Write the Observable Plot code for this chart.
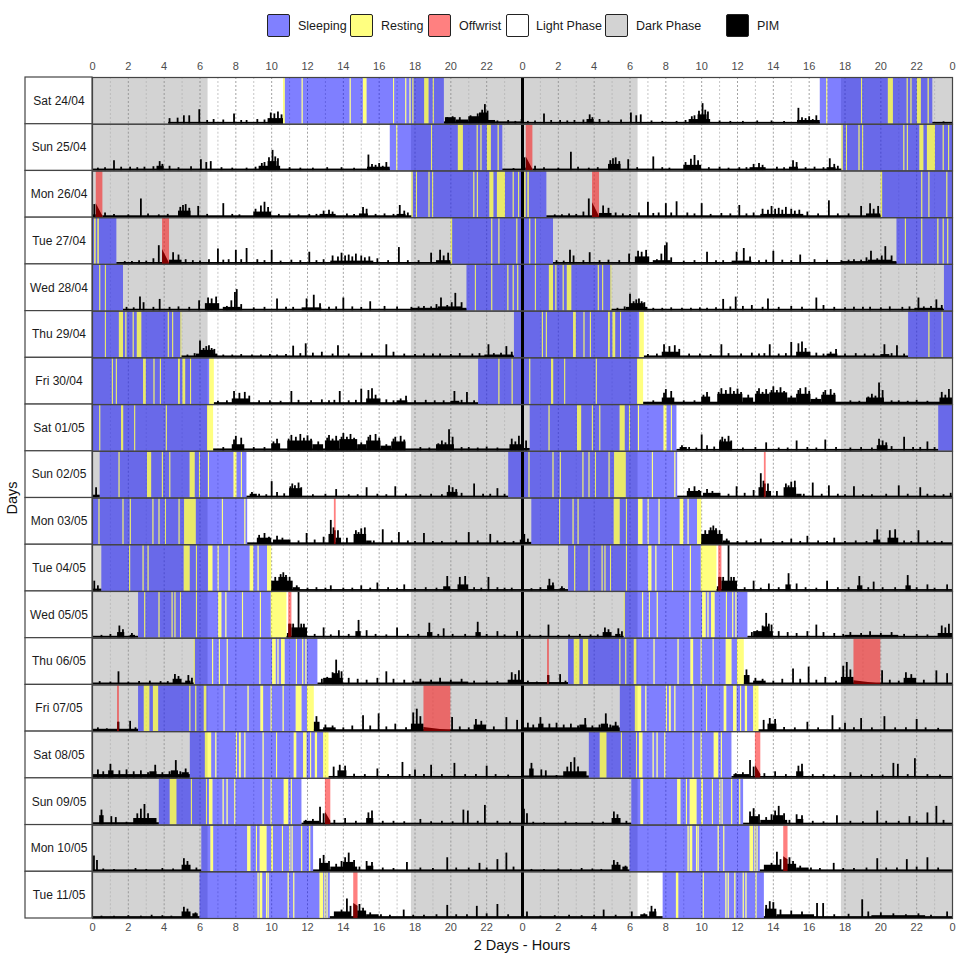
<!DOCTYPE html>
<html>
<head>
<meta charset="utf-8">
<script src="https://cdn.jsdelivr.net/npm/d3@7"></script>
<script src="https://cdn.jsdelivr.net/npm/@observablehq/plot@0.6"></script>
<style>
  body { margin: 0; background: white; font-family: "Liberation Sans", Arial, sans-serif; }
  #wrap { width: 960px; }
  #chart svg { display: block; }
  .lg-box { position: absolute; top: 14px; width: 21px; height: 21px; border: 1.5px solid #222; border-radius: 2px; }
  .lg-txt { position: absolute; top: 18px; line-height: 16px; font-size: 12.5px; color: #1a1a1a; }
</style>
</head>
<body>
<div id="wrap">
  <div id="legend" style="position:relative;width:960px;height:50px;"></div>
  <div id="chart"></div>
  <div style="position:relative;width:960px;height:25px;">
    <div style="position:absolute;left:92px;width:860px;top:0;text-align:center;line-height:20px;font-size:14.5px;color:#111;">2 Days - Hours</div>
  </div>
</div>
<script>
// ---------------- data ----------------
const dayLabels = ["Sat 24/04","Sun 25/04","Mon 26/04","Tue 27/04","Wed 28/04","Thu 29/04","Fri 30/04","Sat 01/05","Sun 02/05","Mon 03/05","Tue 04/05","Wed 05/05","Thu 06/05","Fri 07/05","Sat 08/05","Sun 09/05","Mon 10/05","Tue 11/05","Wed 12/05"];

const darkPhase = [[0, 6.45], [17.8, 24]];

const xTicks = [0,2,4,6,8,10,12,14,16,18,20,22,24,26,28,30,32,34,36,38,40,42,44,46,48];

const sleepBouts = [
  [[10.76,19.64]],
  [[16.62,22.9]],
  [[17.88,24]],
  [[0,1.36],[20.1,24]],
  [[0,1.73],[20.9,24]],
  [[0,4.99],[23.55,24]],
  [[0,6.54],[21.55,24]],
  [[0,6.42]],
  [[0.43,8.62],[23.23,24]],
  [[0,8.66]],
  [[0.52,9.77]],
  [[2.57,9.98]],
  [[5.68,12.58]],
  [[2.57,12.38]],
  [[5.46,12.9]],
  [[3.73,11.69]],
  [[6.1,12.34]],
  [[6.0,13.27]],
  [[7.85,13.5]]
];

const restBouts = [
  [[10.66,10.76],[11.7,11.76],[14.38,14.44],[15.12,15.32],[16.8,16.86],[17.48,17.54],[17.72,17.78],[17.88,17.94],[18.54,18.78],[19.02,19.08]],
  [[16.98,17.04],[18.92,18.98],[20.42,20.7],[21.47,21.53],[21.68,21.74],[22.04,22.26],[22.64,22.7]],
  [[17.83,17.9],[18.08,18.14],[18.78,18.84],[18.98,19.04],[21.28,21.34],[21.48,21.54],[22.18,22.4],[22.6,23.05],[23.48,23.54],[23.78,23.84]],
  [[0.12,0.2],[0.3,0.38],[20.02,20.1],[22.28,22.34],[22.68,22.74],[23.68,23.74]],
  [[0.4,0.46],[0.72,0.78],[21.37,21.43],[22.28,22.34],[23.18,23.24],[23.48,23.54],[23.73,23.79]],
  [[0.72,0.78],[1.5,1.73],[1.86,1.92],[2.27,2.33],[2.5,2.75],[4.23,4.29],[4.47,4.53],[4.93,4.99]],
  [[1.11,1.17],[1.33,1.39],[2.85,3.0],[3.43,3.49],[3.79,3.85],[4.8,4.9],[5.05,5.2],[5.47,5.53],[6.54,6.8],[22.68,22.74],[23.42,23.48]],
  [[0.4,0.46],[1.62,1.74],[2.35,2.41],[4.12,4.18],[6.42,6.76]],
  [[1.48,1.54],[3.07,3.3],[3.9,3.96],[4.31,4.37],[5.45,5.73],[5.97,6.03],[6.47,6.53],[7.9,8.06],[8.31,8.37]],
  [[0.36,0.42],[1.7,1.76],[2.11,2.17],[3.37,3.43],[3.71,3.77],[4.07,4.13],[4.83,4.89],[5.14,5.79],[7.25,7.31],[8.5,8.56]],
  [[2.07,2.13],[2.82,2.88],[3.1,3.16],[5.12,5.45],[5.8,5.86],[6.48,6.72],[7.01,7.07],[7.62,7.68],[8.8,9.0],[9.24,9.3],[9.77,10.0]],
  [[2.91,2.97],[3.71,3.77],[4.44,4.5],[4.6,4.66],[4.91,4.97],[5.8,5.86],[7.04,7.22],[7.44,7.5],[8.37,8.43],[9.37,9.43],[9.98,10.85]],
  [[5.68,5.74],[6.7,6.76],[7.08,7.14],[7.52,7.58],[9.34,9.4],[10.05,10.25],[10.35,10.41],[10.55,10.75],[11.38,11.44],[11.73,11.79],[11.91,11.97]],
  [[2.89,3.2],[3.4,3.69],[5.43,5.49],[5.76,5.82],[6.24,6.38],[7.34,7.4],[8.68,8.74],[9.4,9.55],[9.97,10.03],[10.64,10.7],[11.37,11.69],[12.0,12.38]],
  [[6.3,6.65],[6.88,6.94],[8.03,8.09],[8.2,8.3],[8.5,8.56],[9.52,9.58],[10.27,10.33],[11.26,11.4],[11.78,11.97],[12.17,12.23],[12.44,12.56],[12.9,13.2]],
  [[4.34,4.71],[5.52,5.58],[6.36,6.42],[6.53,6.72],[7.29,7.35],[7.51,7.57],[7.94,8.0],[9.52,9.58],[9.97,10.03],[10.7,10.95],[11.1,11.16]],
  [[6.61,6.76],[8.66,8.84],[9.15,9.21],[9.36,9.74],[10.0,10.1],[10.6,10.66],[11.01,11.07],[11.14,11.2],[11.67,11.73],[12.12,12.18]],
  [[9.24,9.3],[9.36,9.5],[9.71,9.77],[9.8,9.86],[10.92,10.98],[11.23,11.29],[12.7,12.9],[12.97,13.03],[13.09,13.15]],
  [[8.59,8.72],[10.09,10.15],[11.35,11.41],[11.48,11.54],[11.85,11.91],[12.32,12.38],[12.47,12.53],[13.03,13.09]]
];

const offwristBouts = [
  [], [], [[0.21,0.58]], [[3.91,4.3]], [], [], [], [], [], [[13.5,13.6]], [], [[10.95,11.13]], [],
  [[1.4,1.5],[18.5,20.0]], [], [[13.0,13.3]], [], [[14.58,14.82]], []
];
// PIM at start / end of each offwrist bout
const offwristPim = [
  [], [], [[30,3]], [[32,2]], [], [], [], [], [], [[30,30]], [], [[30,30]], [],
  [[20,20],[9,2]], [], [[28,8]], [], [[32,26]], []
];

// PIM background levels: [start, end, level]
const pimLevels = [
  [[4.25,10.66,4],[9.8,10.66,12],[19.64,24,5],[19.7,20.3,14],[20.3,21.0,9],[21.0,21.6,16],[21.6,22.1,24],[22.1,22.5,8]],
  [[0,16.62,4],[3.6,4.0,10],[9.3,10.5,10],[9.8,10.3,20],[15.35,16.62,8],[22.9,24,4]],
  [[0,0.21,6],[0.58,17.83,4],[4.8,5.5,14],[9.0,10.0,12],[12.7,13.6,7],[14.9,15.4,8],[17.0,17.5,7]],
  [[1.36,3.91,4],[4.3,20.02,4],[4.3,5.0,9],[13.3,15.7,7],[19.2,20.0,8]],
  [[1.73,20.9,4],[6.3,7.1,16],[7.3,8.3,8],[11.7,12.8,7],[17.8,20.9,6],[19.3,20.6,9]],
  [[4.99,23.55,4],[5.8,7.0,8],[6.0,6.8,16],[21.9,23.5,6]],
  [[6.8,21.55,4],[7.8,8.8,12],[15.3,16.1,12],[17.0,17.6,8],[20.0,20.5,7]],
  [[6.76,24,5],[7.8,8.5,14],[10.0,10.5,16],[10.9,12.3,22],[12.3,12.9,14],[13.0,13.8,22],[13.8,14.8,25],[14.8,15.3,14],[15.3,16.1,22],[16.1,16.7,11],[16.7,17.5,20],[19.2,20.2,14],[23.3,24,14]],
  [[0,0.43,6],[8.62,23.23,4],[8.8,9.2,8],[11.0,11.7,20],[19.8,20.4,12]],
  [[8.66,24,4],[9.2,10.0,14],[10.1,11.0,10],[13.2,13.5,22],[13.6,13.9,14],[14.6,15.3,22],[15.3,15.6,8]],
  [[0,0.52,5],[10.0,24,4],[10.0,11.2,22],[10.4,10.9,30],[11.2,11.6,8],[19.6,20.0,10],[20.4,21.0,14]],
  [[0,2.57,4],[1.4,1.8,12],[2.1,2.4,6],[10.85,24,4],[11.13,12.0,22],[14.7,15.0,14],[18.7,19.0,12],[21.4,21.7,12]],
  [[0,5.68,4],[4.5,5.0,12],[5.2,5.5,8],[12.58,24,4],[12.9,14.0,14],[13.4,13.8,24],[18.0,21.0,6],[23.2,24,10]],
  [[0,1.4,5],[1.5,2.57,5],[12.38,24,4],[12.38,12.7,20],[12.9,13.6,8],[17.8,18.5,16],[21.3,22.0,14]],
  [[0,5.46,8],[0.9,1.2,16],[3.2,3.6,14],[4.4,4.8,16],[5.0,5.4,12],[13.2,24,4],[13.7,14.2,16]],
  [[0,3.73,5],[0.4,0.65,20],[2.3,3.6,14],[11.69,24,4],[11.8,12.7,8],[15.3,15.7,14]],
  [[0,6.1,4],[5.0,5.5,14],[12.34,24,4],[12.7,13.2,18],[13.3,14.8,10],[14.0,14.6,20],[15.3,15.7,12]],
  [[0,6.0,4],[5.0,5.5,14],[5.6,5.9,10],[13.27,24,4],[13.5,14.4,14],[14.8,15.3,16],[15.3,16.0,8]],
  [[0,7.85,4],[6.6,7.0,8],[7.1,7.5,14],[13.5,24,4],[13.56,14.2,20],[14.2,16.3,8],[19.5,22.5,6]]
];

// PIM peaks: [hour, value]
const pimSpikes = [
  [[4.3,12],[4.75,13],[5.1,18],[5.4,18],[5.96,31],[6.4,8],[6.76,10],[7.3,9],[7.9,22],[8.3,8],[8.6,8],[9.2,10],[9.6,9],[9.95,24],[10.15,22],[10.35,26],[10.55,20],[19.8,14],[20.1,16],[20.5,14],[21.1,18],[21.5,22],[21.75,30],[21.9,42],[22.05,28],[22.6,7],[23.2,8],[23.6,6],[23.95,10]],
  [[0.3,6],[0.7,7],[1.2,22],[1.6,8],[2.1,8],[2.5,7],[2.9,8],[3.4,9],[3.75,20],[3.9,14],[4.3,10],[4.8,7],[5.5,9],[6.05,24],[6.35,18],[6.6,20],[7.2,7],[7.8,6],[8.6,6],[9.1,8],[9.45,16],[9.6,18],[9.85,28],[10.05,44],[10.2,30],[10.35,26],[11.0,7],[11.6,6],[12.3,6],[13.1,7],[13.9,7],[14.6,6],[15.4,34],[15.6,14],[15.8,12],[16.0,16],[16.2,10],[16.4,18],[23.5,5]],
  [[0.1,28],[0.7,10],[1.2,7],[2.0,6],[2.7,40],[3.1,8],[3.7,6],[4.2,7],[4.9,22],[5.05,26],[5.2,28],[5.4,20],[5.9,24],[6.4,7],[7.3,30],[7.8,7],[8.2,6],[9.1,18],[9.4,25],[9.6,33],[9.8,22],[10.4,7],[11.0,8],[11.5,6],[12.1,7],[12.5,7],[12.9,14],[13.2,16],[13.4,12],[14.2,8],[14.6,7],[15.1,22],[15.3,18],[15.8,7],[16.3,8],[16.8,7],[17.15,26],[17.4,14],[17.6,10]],
  [[1.8,6],[2.2,6],[2.6,8],[3.0,7],[3.4,12],[3.7,40],[4.5,25],[4.8,20],[5.2,10],[5.6,8],[6.0,7],[6.5,10],[7.0,33],[7.3,9],[7.6,10],[8.0,30],[8.3,10],[8.6,34],[9.2,10],[9.6,8],[10.0,30],[10.5,7],[11.1,9],[11.6,8],[12.1,26],[12.5,8],[12.9,10],[13.4,18],[13.7,16],[13.9,24],[14.1,18],[14.3,20],[14.5,16],[14.7,22],[15.0,18],[15.2,14],[15.45,16],[15.9,12],[16.5,8],[17.1,36],[17.6,8],[18.2,8],[18.9,24],[19.4,30],[19.6,18],[19.85,24]],
  [[1.9,8],[2.3,7],[2.65,30],[2.85,18],[3.4,8],[3.75,25],[4.3,8],[4.8,9],[5.4,8],[5.95,22],[6.45,28],[6.65,26],[6.9,30],[7.5,10],[7.75,22],[7.95,40],[8.05,46],[8.3,14],[9.0,7],[9.6,8],[10.3,26],[10.8,8],[11.2,8],[11.95,26],[12.35,34],[12.7,16],[13.2,8],[13.6,9],[14.0,28],[14.5,9],[15.0,8],[15.5,20],[16.3,10],[17.0,9],[17.8,8],[18.2,9],[18.5,10],[18.9,9],[19.2,14],[19.45,28],[19.8,12],[20.05,18],[20.25,38],[20.6,18]],
  [[5.3,6],[5.7,9],[6.0,36],[6.2,20],[6.35,24],[6.5,26],[6.65,20],[6.8,18],[7.3,6],[7.8,6],[8.3,7],[8.9,6],[9.4,6],[9.9,7],[10.3,6],[10.8,7],[11.2,25],[11.6,9],[11.9,30],[12.3,10],[12.8,12],[13.4,8],[13.7,26],[14.3,8],[15.0,10],[15.6,8],[16.4,28],[16.8,12],[17.4,8],[18.0,7],[18.5,8],[19.0,8],[19.4,8],[20.0,7],[20.5,9],[21.2,8],[21.6,9],[22.1,28],[22.4,9],[22.8,10],[23.1,24],[23.4,12]],
  [[7.0,7],[7.5,8],[7.9,28],[8.2,24],[8.5,26],[8.75,18],[9.3,8],[9.9,8],[10.5,7],[11.1,28],[11.5,9],[12.2,8],[12.8,10],[13.2,8],[13.5,9],[13.8,28],[14.3,8],[14.7,9],[15.0,33],[15.4,30],[15.6,34],[15.8,20],[16.4,10],[16.8,8],[17.2,12],[17.5,18],[18.0,8],[18.6,9],[19.1,8],[19.6,8],[20.2,28],[20.6,9],[20.9,26],[21.3,8]],
  [[7.3,8],[7.9,24],[8.0,32],[8.3,28],[9.0,8],[9.6,8],[10.1,20],[10.3,26],[10.95,26],[11.1,34],[11.35,30],[11.6,36],[11.8,28],[12.0,33],[12.2,26],[12.6,20],[13.1,28],[13.2,34],[13.4,26],[13.6,32],[13.9,30],[14.0,38],[14.2,30],[14.4,36],[14.6,28],[15.0,18],[15.4,30],[15.5,34],[15.8,36],[16.0,28],[16.4,14],[16.8,26],[16.9,30],[17.2,32],[17.4,24],[18.3,8],[18.8,7],[19.3,16],[19.5,22],[19.7,18],[19.9,46],[20.1,30],[20.6,8],[21.0,8],[21.5,7],[22.0,9],[22.6,7],[23.4,26],[23.6,20],[23.8,32]],
  [[0.2,22],[8.9,12],[9.3,8],[9.7,7],[10.0,35],[10.3,12],[10.7,9],[11.05,24],[11.15,30],[11.3,26],[11.5,32],[11.65,22],[12.3,7],[13.0,8],[13.6,18],[14.3,7],[14.8,7],[15.3,22],[15.9,8],[16.4,7],[16.9,24],[17.5,8],[18.3,7],[18.9,8],[19.5,7],[19.9,26],[20.1,22],[20.3,18],[20.6,10],[21.3,30],[21.8,8],[22.2,8],[22.6,20],[23.0,8]],
  [[9.3,20],[9.6,24],[9.85,16],[10.3,18],[10.6,14],[11.0,10],[11.5,8],[11.95,24],[12.4,10],[12.9,16],[13.3,52],[13.45,36],[13.7,30],[14.2,14],[14.7,30],[14.85,26],[15.0,34],[15.2,36],[15.7,8],[16.2,32],[16.7,8],[17.1,26],[17.6,8],[18.0,7],[18.5,24],[19.0,7],[19.5,7],[20.3,8],[21.0,26],[21.5,8],[22.2,22],[22.6,8],[23.0,7],[23.5,7],[23.9,10]],
  [[0.1,22],[0.3,12],[10.2,30],[10.5,36],[10.65,40],[10.8,34],[11.0,30],[11.4,12],[12.0,7],[12.5,8],[13.0,7],[13.3,12],[14.0,7],[14.5,7],[15.0,12],[15.5,7],[15.9,18],[16.5,8],[17.0,7],[17.4,14],[18.0,7],[18.6,8],[19.2,7],[19.8,32],[20.5,30],[20.8,32],[21.3,8],[21.7,7],[22.1,30],[22.6,8],[23.0,7],[23.4,7]],
  [[0.5,6],[1.0,8],[1.5,26],[1.7,18],[2.2,10],[10.9,10],[11.2,30],[11.5,100],[11.65,30],[11.8,30],[12.4,8],[12.9,22],[13.3,7],[13.75,16],[14.3,8],[14.85,38],[15.3,16],[15.8,8],[16.4,7],[17.0,22],[17.6,8],[18.2,8],[18.8,32],[19.3,8],[19.6,20],[20.1,8],[20.8,8],[21.5,34],[22.0,8],[22.6,14],[23.0,7],[23.7,14]],
  [[0.4,7],[1.0,6],[1.45,28],[2.0,6],[2.6,7],[3.2,8],[3.8,7],[4.2,7],[4.6,22],[4.8,18],[5.35,20],[5.55,14],[12.8,12],[13.1,16],[13.4,26],[13.6,53],[13.75,30],[13.9,28],[14.3,14],[14.8,12],[15.3,10],[15.9,14],[16.4,28],[16.8,12],[17.4,10],[17.9,8],[18.3,12],[18.9,10],[19.4,14],[20.0,10],[20.6,12],[21.3,8],[22.0,8],[22.6,7],[23.4,26],[23.6,22],[23.8,30]],
  [[0.3,8],[0.8,6],[1.45,20],[2.1,22],[2.4,8],[12.5,32],[13.0,14],[13.4,12],[14.0,8],[14.5,12],[15.1,34],[15.5,12],[15.97,38],[16.4,10],[16.9,16],[17.5,8],[17.9,40],[18.1,48],[18.3,32],[20.07,30],[20.5,10],[21.0,8],[21.4,26],[21.7,22],[22.4,10],[23.1,30],[23.7,24]],
  [[0.3,18],[0.6,14],[1.0,30],[1.5,16],[1.9,18],[2.3,14],[2.7,16],[3.1,12],[3.5,28],[3.9,12],[4.3,14],[4.65,38],[4.9,14],[5.2,20],[13.46,24],[13.8,28],[14.1,26],[14.6,9],[15.2,8],[15.9,20],[16.5,8],[17.3,34],[17.7,8],[18.0,18],[18.5,8],[18.9,28],[19.5,8],[20.2,32],[20.8,8],[21.4,8],[22.0,26],[22.5,8],[23.2,7]],
  [[0.5,32],[1.05,18],[1.3,16],[1.9,6],[2.5,24],[2.7,34],[2.9,44],[3.1,24],[3.4,12],[11.9,10],[12.3,12],[12.7,38],[12.9,24],[13.5,10],[14.1,14],[14.7,8],[15.4,26],[15.6,30],[16.2,8],[16.8,8],[17.4,7],[18.3,12],[18.9,7],[19.5,8],[20.1,7],[20.7,32],[20.95,30],[21.5,8],[21.9,42],[22.6,8],[23.3,7]],
  [[0.08,34],[0.25,24],[0.6,6],[1.2,5],[2.4,7],[3.0,5],[3.9,7],[4.5,6],[5.1,28],[5.3,22],[5.8,8],[12.7,28],[12.9,35],[13.2,22],[13.6,16],[13.9,22],[14.1,30],[14.3,40],[14.6,24],[14.9,10],[15.3,22],[15.6,20],[16.2,8],[16.8,7],[17.55,20],[18.3,8],[19.0,7],[19.8,30],[20.3,8],[21.0,8],[21.6,18],[22.0,8],[22.6,26],[23.1,40],[23.5,10]],
  [[0.5,5],[1.2,5],[2.0,6],[2.7,5],[3.3,7],[3.9,6],[4.4,5],[5.1,24],[5.3,20],[5.75,12],[13.6,12],[13.9,18],[14.2,42],[14.4,26],[14.9,30],[15.1,22],[15.5,12],[16.1,8],[16.6,7],[17.37,18],[17.9,7],[18.5,7],[19.2,8],[19.8,28],[20.3,8],[20.9,8],[21.45,26],[22.0,10],[22.6,30],[23.2,8]],
  [[0.25,14],[1.0,5],[1.8,6],[2.6,7],[3.3,6],[4.0,7],[4.53,18],[5.2,7],[6.1,14],[6.8,10],[7.2,26],[7.4,20],[13.6,28],[13.8,36],[14.0,34],[14.4,18],[15.0,16],[15.6,14],[16.44,32],[16.78,32],[17.4,8],[18.2,9],[18.96,40],[19.3,14],[20.0,12],[20.7,10],[21.4,8],[22.1,10],[22.8,7],[23.7,14]]
];

const legendItems = [
  {label: "Sleeping", color: "#8080ff", box: 267, text: 298},
  {label: "Resting", color: "#ffff80", box: 350, text: 381},
  {label: "Offwrist", color: "#ff8080", box: 428, text: 459},
  {label: "Light Phase", color: "#ffffff", box: 506, text: 536},
  {label: "Dark Phase", color: "#d3d3d3", box: 605, text: 636},
  {label: "PIM", color: "#000000", box: 726, text: 757}
];

// ---------------- build ----------------
const rows = dayLabels.slice(0, 18);

function subtract(intervals, cuts) {
  let out = intervals.map(d => [d[0], d[1]]);
  for (const [cs, ce] of cuts) {
    out = out.flatMap(([s, e]) => (ce <= s || cs >= e) ? [[s, e]] :
      [[s, Math.min(cs, e)], [Math.max(ce, s), e]].filter(([a, b]) => b > a));
  }
  return out;
}

const bg = [], blue = [], yellow = [], red = [], levels = [], spikes = [], ramps = [];
rows.forEach((row, r) => {
  for (const half of [0, 1]) {
    const d = r + half, off = half * 24;
    for (const [s, e] of darkPhase) bg.push({row, x1: s + off, x2: e + off});
    const cuts = restBouts[d].concat(offwristBouts[d]);
    for (const [s, e] of subtract(sleepBouts[d], cuts)) blue.push({row, x1: s + off, x2: e + off});
    for (const [s, e] of restBouts[d]) yellow.push({row, x1: s + off, x2: e + off});
    offwristBouts[d].forEach(([s, e], i) => {
      red.push({row, x1: s + off, x2: e + off});
      const id = `${r}-${half}-${i}`;
      ramps.push({row, id, x: s + off, v: offwristPim[d][i][0]});
      ramps.push({row, id, x: e + off, v: offwristPim[d][i][1]});
    });
    for (const [s, e, v] of pimLevels[d]) levels.push({row, x1: s + off, x2: e + off, y0: 0, v});
    for (const [h, v] of pimSpikes[d]) spikes.push({row, x: h + off, y0: 0, v});
  }
});

const hours = d3.range(1, 48).filter(h => h !== 24);
const labelBoxHours = 67 / (860 / 48); // width of the row-label box, in hours

const chart = Plot.plot({
  width: 960,
  height: 885,
  marginTop: 27,
  marginBottom: 17,
  marginLeft: 92,
  marginRight: 8,
  style: {fontFamily: "'Liberation Sans', Arial, sans-serif", background: "white", color: "#4d4d4d"},
  x: {domain: [0, 48]},
  y: {domain: [0, 100], axis: null},
  fy: {domain: rows, padding: 0, round: false, axis: null},
  marks: [
    Plot.rect(bg, {fy: "row", x1: "x1", x2: "x2", fill: "#d3d3d3"}),
    Plot.ruleX(hours.filter(h => h % 2 === 1), {stroke: "#b8b8b8", strokeWidth: 0.8, strokeDasharray: "2,2"}),
    Plot.ruleX(hours.filter(h => h % 2 === 0), {stroke: "#8c8c8c", strokeWidth: 0.8, strokeDasharray: "2,2"}),
    Plot.rect(levels, {fy: "row", x1: "x1", x2: "x2", y1: "y0", y2: "v", fill: "black"}),
    Plot.ruleX(spikes, {fy: "row", x: "x", y1: "y0", y2: "v", stroke: "black", strokeWidth: 1.8}),
    Plot.areaY(ramps, {fy: "row", x: "x", y: "v", z: "id", fill: "black"}),
    Plot.rect(blue, {fy: "row", x1: "x1", x2: "x2", fill: "#0000ff", fillOpacity: 0.5}),
    Plot.rect(yellow, {fy: "row", x1: "x1", x2: "x2", fill: "#ffff00", fillOpacity: 0.5}),
    Plot.rect(red, {fy: "row", x1: "x1", x2: "x2", fill: "#ff0000", fillOpacity: 0.5}),
    Plot.ruleX([24], {stroke: "black", strokeWidth: 3}),
    Plot.frame({stroke: "#444", strokeWidth: 1.2}),
    Plot.rect(rows, {fy: d => d, x1: -labelBoxHours, x2: 0, fill: "white", stroke: "#444", strokeWidth: 1.2}),
    Plot.text(rows, {fy: d => d, x: -labelBoxHours / 2, text: d => d, frameAnchor: "middle", fontSize: 12, fill: "#1a1a1a"}),
    Plot.text(["Days"], {fy: () => rows[8], x: -labelBoxHours - 0.5, frameAnchor: "bottom", rotate: -90, fontSize: 14.5, fill: "#111", textAnchor: "middle"}),
    Plot.axisX({anchor: "top", ticks: xTicks, tickFormat: d => String(d % 24), tickSize: 0, tickPadding: 8, fontSize: 11, label: null}),
    Plot.axisX({anchor: "bottom", ticks: xTicks, tickFormat: d => String(d % 24), tickSize: 0, tickPadding: 5, fontSize: 11, label: null})
  ]
});
document.getElementById("chart").appendChild(chart);

const lg = document.getElementById("legend");
for (const it of legendItems) {
  const b = document.createElement("div");
  b.className = "lg-box";
  b.style.left = it.box + "px";
  b.style.background = it.color;
  lg.appendChild(b);
  const t = document.createElement("div");
  t.className = "lg-txt";
  t.style.left = it.text + "px";
  t.textContent = it.label;
  lg.appendChild(t);
}
</script>
</body>
</html>
